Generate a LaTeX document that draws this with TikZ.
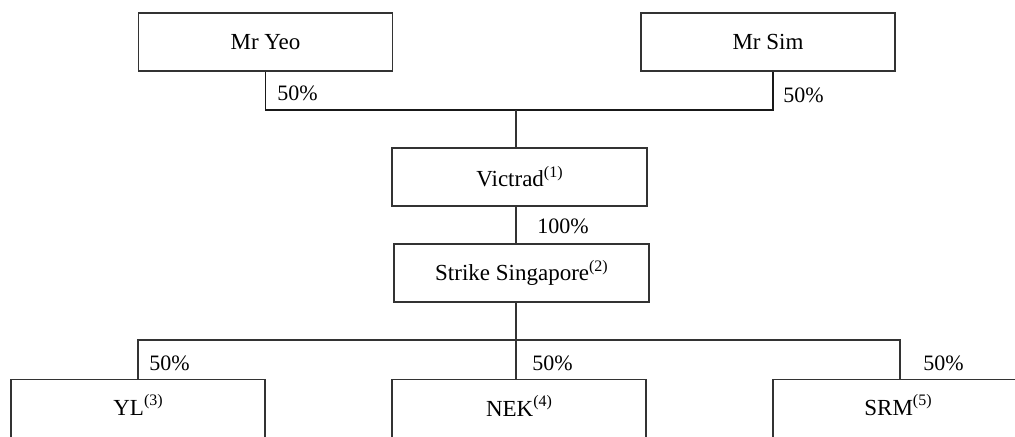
\documentclass[tikz,border=0pt]{standalone}
\usepackage{fontspec}
\setmainfont{Liberation Serif}
\newcommand{\supnote}[1]{\raisebox{4.6pt}{\fontsize{8}{9}\selectfont(#1)}}
\begin{document}
\begin{tikzpicture}[x=0.5pt,y=-0.5pt,
  box/.style={draw=black!80,line width=0.6pt,rectangle,inner sep=0pt,
    font=\fontsize{11.5}{13}\selectfont},
  lbl/.style={font=\fontsize{11.5}{13}\selectfont,inner sep=0pt},
  pct/.style={font=\fontsize{11}{13}\selectfont,inner sep=0pt},
  conn/.style={draw=black!80,line width=0.6pt},
  topconn/.style={draw=black!90,line width=0.9pt}]
\useasboundingbox (0,0) rectangle (1015,436);
\clip (0,0) rectangle (1015,436);
% top owners
\node[box,minimum width=127pt,minimum height=29pt] (yeo) at (265.5,42) {Mr Yeo};
\node[box,minimum width=127pt,minimum height=29pt] (sim) at (768,42) {Mr Sim};
% middle
\node[box,minimum width=127.5pt,minimum height=29pt] (victrad) at (519.5,177) {Victrad\supnote{1}};
\node[box,minimum width=127.5pt,minimum height=29pt] (strike) at (521.5,273) {Strike Singapore\supnote{2}};
% bottom boxes (cut by the page edge)
\node[box,anchor=north,minimum width=127pt,minimum height=60pt] (yl) at (138,379) {};
\node[box,anchor=north,minimum width=127pt,minimum height=60pt] (nek) at (519,379) {};
\node[box,anchor=north,minimum width=127pt,minimum height=60pt] (srm) at (900,379) {};
\node[lbl] (ylt) at (138,405) {YL\supnote{3}};
\node[lbl] (nekt) at (519,406) {NEK\supnote{4}};
\node[lbl] (srmt) at (898,405) {SRM\supnote{5}};
% junctions
\coordinate (j1) at (516,110);
\coordinate (j2) at (516,340);
% connectors
\draw[topconn] (yeo.south) |- (j1) -| ([xshift=2.5pt]sim.south);
\draw[conn] (j1) -- (j1 |- victrad.north);
\draw[conn] (j1 |- victrad.south) -- (j1 |- strike.north);
\draw[conn] (j1 |- strike.south) -- (j2);
\draw[conn] (yl.north) |- (j2) -| (srm.north);
\draw[conn] (j2) -- (j2 |- nek.north);
% percentages
\node[pct,anchor=west] (p1) at (277,93) {50\%};
\node[pct,anchor=west] (p2) at (783,95) {50\%};
\node[pct,anchor=west] (p3) at (537,226) {100\%};
\node[pct,anchor=west] (p4) at (149,363) {50\%};
\node[pct,anchor=west] (p5) at (532,363) {50\%};
\node[pct,anchor=west] (p6) at (923,363) {50\%};
\end{tikzpicture}
\end{document}
